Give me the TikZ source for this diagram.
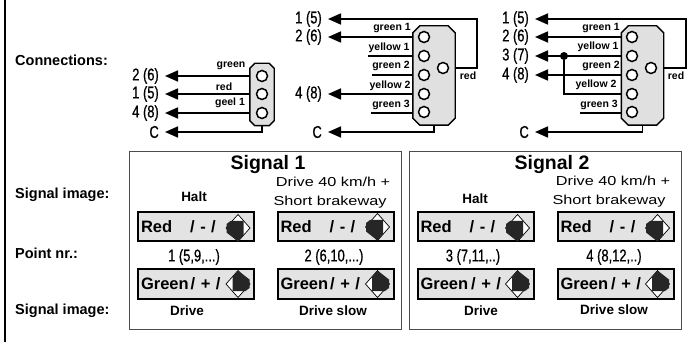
\documentclass[tikz,border=0pt]{standalone}
\usepackage{fontspec}
\setmainfont{Liberation Sans}
\newfontfamily\narrowfont[FakeStretch=0.76,FakeBold=0.7]{Liberation Sans}
\newfontfamily\widefont[FakeStretch=1.25]{Liberation Sans}
\usetikzlibrary{arrows.meta,calc}
\newcommand{\housingoutline}[2]{%
    \draw[housingline] ($(#1.north west)+(#2,0)$) -- ($(#1.north east)+(-#2,0)$) -- ($(#1.north east)+(0,#2)$)
        -- ($(#1.south east)+(0,-#2)$) -- ($(#1.south east)+(-#2,0)$) -- ($(#1.south west)+(#2,0)$)
        -- ($(#1.south west)+(0,-#2)$) -- ($(#1.north west)+(0,#2)$) -- cycle;}
\begin{document}
\begin{tikzpicture}[
    % GLOBAL CFG
    x=1pt, y=-1pt,
    >={Triangle[length=13pt,width=11pt]},
    % Styles
    housing/.style={% For the connector housing
        rectangle,
        inner sep=0pt,
        },
    housingline/.style={% Its cut outline
        draw,
        line width=1.4pt,
        fill=black!12,
        },
    pinhole/.style={% For the contacts
        circle,
        draw,
        line width=1.5pt,
        fill=white,
        minimum size=11pt,
        inner sep=0pt,
        },
    wire/.style={% Lines to and from the housing
        line width=1.7pt,
        },
    pointlabel/.style={% Point numbers at the arrows
        anchor=east,
        inner xsep=6pt,
        inner ysep=0pt,
        font=\fontsize{17}{18}\selectfont\narrowfont,
        },
    wirelabel/.style={% Colours above the wires
        font=\fontsize{10.5}{12}\selectfont\bfseries,
        inner sep=0pt,
        },
    sidelabel/.style={% Row titles on the left
        anchor=west,
        inner sep=0pt,
        font=\fontsize{14.5}{16}\selectfont\bfseries,
        },
    signalbox/.style={% For the two signal frames
        rectangle,
        draw=black!70,
        line width=.9pt,
        minimum width=272pt,
        minimum height=178pt,
        },
    panel/.style={% Lamp fields
        rectangle,
        draw,
        line width=2pt,
        fill=black!11,
        minimum height=29pt,
        text width=110pt,
        align=left,
        inner xsep=3pt,
        inner ysep=0pt,
        font=\fontsize{16.5}{18}\selectfont\bfseries,
        },
    imagetext/.style={% Signal image names
        inner sep=0pt,
        font=\fontsize{13.5}{15}\selectfont\bfseries,
        },
    drivetext/.style={% The long signal image name
        inner sep=0pt,
        font=\fontsize{13}{15}\selectfont\widefont,
        },
    nrtext/.style={% Point numbers between the fields
        inner sep=0pt,
        font=\fontsize{17}{18}\selectfont\narrowfont,
        },
    titletext/.style={% Signal 1 and 2
        inner sep=0pt,
        font=\fontsize{19.5}{22}\selectfont\bfseries,
        },
    redlamp/.pic={% white at top and right
        \draw[fill=white, line width=.7pt] (0,-13.5) -- (12,0) -- (0,13.5) -- (-12,0) -- cycle;
        \fill[black!85] (-7.5,-7) -- (5.5,-7) -- (5.5,7) -- (0,13.5) -- (-11.5,4.5) -- (-11.5,-4) -- cycle;
        },
    greenlamp/.pic={% white at left and bottom
        \draw[fill=white, line width=.7pt] (0,-13.5) -- (12,0) -- (0,13.5) -- (-12,0) -- cycle;
        \fill[black!85] (7.5,7) -- (-5.5,7) -- (-5.5,-7) -- (0,-13.5) -- (11.5,-4.5) -- (11.5,4) -- cycle;
        },
    ]
\useasboundingbox (0,0) rectangle (695,344);

    % Frame
    \coordinate (ftl) at (5,-2);
    \coordinate (fbl) at (5,342);
    \draw[line width=1.5pt] (ftl) -- (fbl);

    % Side titles
    \node[sidelabel] (sideA) at (15,60) {Connections:};
    \node[sidelabel] (sideB) at (15,195) {Signal image:};
    \node[sidelabel] (sideC) at (15,253) {Point nr.:};
    \node[sidelabel] (sideD) at (15,311) {Signal image:};

    % First connector
    \node[housing, minimum width=24pt, minimum height=62pt] (houseA) at (262,94.5) {};
    \node[pointlabel] (nA2) at (165,76) {2 (6)};
    \node[pointlabel] (nA1) at (165,94) {1 (5)};
    \node[pointlabel] (nA4) at (165,113) {4 (8)};
    \node[pointlabel] (nAc) at (165,132) {C};
    \coordinate (a1) at (262,76);
    \coordinate (a2) at (262,94);
    \coordinate (a3) at (262,113);
    \draw[->, wire] (houseA.west |- a1) -- (nA2);
    \draw[->, wire] (houseA.west |- a2) -- (nA1);
    \draw[->, wire] (houseA.west |- a3) -- (nA4);
    \draw[->, wire] (houseA.south) |- (nAc);
    \housingoutline{houseA}{5}
    \node[pinhole] (pinA1) at (a1) {};
    \node[pinhole] (pinA2) at (a2) {};
    \node[pinhole] (pinA3) at (a3) {};
    \node[wirelabel] (wA1) at (231,66) {green};
    \node[wirelabel] (wA2) at (224,87) {red};
    \node[wirelabel] (wA3) at (230,103) {geel 1};

    % Second connector
    \node[housing, minimum width=42pt, minimum height=99pt] (houseB) at (434,75.5) {};
    \node[pointlabel] (nB1) at (328,19) {1 (5)};
    \node[pointlabel] (nB2) at (328,37) {2 (6)};
    \node[pointlabel] (nB4) at (328,94) {4 (8)};
    \node[pointlabel] (nBc) at (328,132) {C};
    \coordinate (b1) at (424,37);
    \coordinate (b2) at (424,56);
    \coordinate (b3) at (424,75);
    \coordinate (b4) at (424,94);
    \coordinate (b5) at (424,112);
    \coordinate (br) at (443,68);
    \coordinate (bbend) at (477,68);
    \coordinate (bstub2) at (368,56);
    \coordinate (bstub3) at (372,75);
    \coordinate (bstub5) at (371,113);
    \draw[->, wire] (houseB.east |- br) -- (bbend) |- (nB1);
    \draw[->, wire] (houseB.west |- b1) -- (nB2);
    \draw[->, wire] (houseB.west |- b4) -- (nB4);
    \draw[->, wire] (houseB.south) |- (nBc);
    \draw[wire] (houseB.west |- bstub2) -- (bstub2);
    \draw[wire] (houseB.west |- bstub3) -- (bstub3);
    \draw[wire] (houseB.west |- bstub5) -- (bstub5);
    \housingoutline{houseB}{7}
    \node[pinhole] (pinB1) at (b1) {};
    \node[pinhole] (pinB2) at (b2) {};
    \node[pinhole] (pinB3) at (b3) {};
    \node[pinhole] (pinB4) at (b4) {};
    \node[pinhole] (pinB5) at (b5) {};
    \node[pinhole] (pinBr) at (br) {};
    \node[wirelabel] (wB1) at (392,28) {green 1};
    \node[wirelabel] (wB2) at (389,48) {yellow 1};
    \node[wirelabel] (wB3) at (391,66) {green 2};
    \node[wirelabel] (wB4) at (390,86) {yellow 2};
    \node[wirelabel] (wB5) at (391,105) {green 3};
    \node[wirelabel] (wBr) at (468,76) {red};

    % Third connector
    \node[housing, minimum width=42pt, minimum height=99pt] (houseC) at (642.5,75.5) {};
    \node[pointlabel] (nC1) at (535,19) {1 (5)};
    \node[pointlabel] (nC2) at (535,37) {2 (6)};
    \node[pointlabel] (nC3) at (535,56) {3 (7)};
    \node[pointlabel] (nC4) at (535,75) {4 (8)};
    \node[pointlabel] (nCc) at (535,132) {C};
    \node[circle, fill, minimum size=8pt, inner sep=0pt] (cdot) at (564,56) {};
    \coordinate (c1) at (632,37);
    \coordinate (c2) at (632,56);
    \coordinate (c3) at (632,75);
    \coordinate (c4) at (632,94);
    \coordinate (c5) at (632,112);
    \coordinate (cr) at (651,68);
    \coordinate (cbend) at (686,68);
    \coordinate (cstub5) at (580,113);
    \draw[->, wire] (houseC.east |- cr) -- (cbend) |- (nC1);
    \draw[->, wire] (houseC.west |- c1) -- (nC2);
    \draw[->, wire] (houseC.west |- c2) -- (nC3);
    \draw[->, wire] (houseC.west |- c3) -- (nC4);
    \draw[wire] (cdot) |- (houseC.west |- c4);
    \draw[->, wire] (houseC.south) |- (nCc);
    \draw[wire] (houseC.west |- cstub5) -- (cstub5);
    \housingoutline{houseC}{7}
    \node[pinhole] (pinC1) at (c1) {};
    \node[pinhole] (pinC2) at (c2) {};
    \node[pinhole] (pinC3) at (c3) {};
    \node[pinhole] (pinC4) at (c4) {};
    \node[pinhole] (pinC5) at (c5) {};
    \node[pinhole] (pinCr) at (cr) {};
    \node[wirelabel] (wC1) at (601,28) {green 1};
    \node[wirelabel] (wC2) at (598,47) {yellow 1};
    \node[wirelabel] (wC3) at (601,66) {green 2};
    \node[wirelabel] (wC4) at (596,85) {yellow 2};
    \node[wirelabel] (wC5) at (599,105) {green 3};
    \node[wirelabel] (wCr) at (676,76) {red};

    % Signal 1
    \node[signalbox] (sigA) at (265,240) {};
    \node[titletext] (titleA) at (268,165) {Signal 1};
    \node[imagetext] (haltA) at (194,197) {Halt};
    \node[drivetext] (fastA) at (333,182) {Drive 40 km/h +};
    \node[drivetext] (shortA) at (330,202) {Short brakeway};
    \node[panel] (redA) at (196,227) {Red\hspace{18pt}/ - /};
    \node[panel] (redB) at (335.5,227) {Red\hspace{18pt}/ - /};
    \node[nrtext] (nrA) at (194,257) {1 (5,9,...)};
    \node[nrtext] (nrB) at (334,257) {2 (6,10,...)};
    \node[panel] (greenA) at (196,284) {Green\hspace{2pt}/ + /};
    \node[panel] (greenB) at (335.5,284) {Green\hspace{2pt}/ + /};
    \node[imagetext] (driveA) at (187,311) {Drive};
    \node[imagetext] (slowA) at (333,311) {Drive slow};
    \path (redA.east) ++(-17,1) pic {redlamp};
    \path (redB.east) ++(-17,0) pic {redlamp};
    \path (greenA.east) ++(-17,0) pic {greenlamp};
    \path (greenB.east) ++(-17,0) pic {greenlamp};

    % Signal 2
    \node[signalbox] (sigB) at (545,240) {};
    \node[titletext] (titleB) at (552,165) {Signal 2};
    \node[imagetext] (haltC) at (475,199) {Halt};
    \node[drivetext] (fastC) at (613,181) {Drive 40 km/h +};
    \node[drivetext] (shortC) at (609,201) {Short brakeway};
    \node[panel] (redC) at (475.5,227) {Red\hspace{18pt}/ - /};
    \node[panel] (redD) at (615.5,227) {Red\hspace{18pt}/ - /};
    \node[nrtext] (nrC) at (473,257) {3 (7,11,..)};
    \node[nrtext] (nrD) at (614,257) {4 (8,12,..)};
    \node[panel] (greenC) at (475.5,284) {Green\hspace{3pt}/ + /};
    \node[panel] (greenD) at (615.5,284) {Green\hspace{3pt}/ + /};
    \node[imagetext] (driveC) at (481,311) {Drive};
    \node[imagetext] (slowD) at (614,310) {Drive slow};
    \path (redC.east) ++(-17,1) pic {redlamp};
    \path (redD.east) ++(-17,1) pic {redlamp};
    \path (greenC.east) ++(-17,0) pic {greenlamp};
    \path (greenD.east) ++(-17,0) pic {greenlamp};
\end{tikzpicture}
\end{document}
